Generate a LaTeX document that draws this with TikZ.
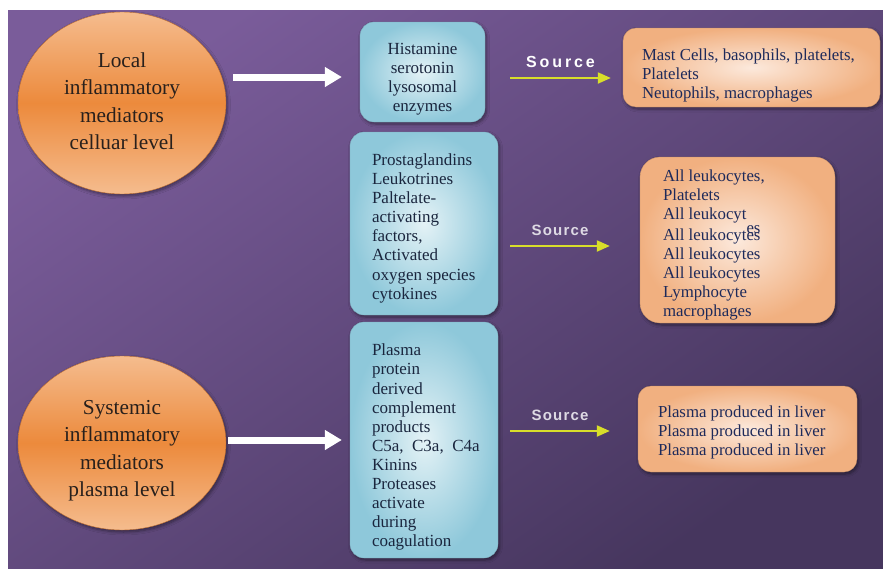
\documentclass[tikz,border=0pt]{standalone}
\usepackage{fontspec}
\setmainfont{Liberation Serif}
\newfontfamily\srcwide[LetterSpace=18]{Liberation Sans}
\newfontfamily\srcnarrow[LetterSpace=8]{Liberation Sans}
\usetikzlibrary{shapes.geometric,arrows.meta,shadows.blur}
\definecolor{bgtop}{RGB}{122,92,154}
\definecolor{bgbot}{RGB}{70,54,94}
\definecolor{orlight}{RGB}{245,188,142}
\definecolor{ordark}{RGB}{236,138,60}
\definecolor{blueout}{RGB}{142,200,218}
\definecolor{bluein}{RGB}{228,242,246}
\definecolor{peachout}{RGB}{241,176,128}
\definecolor{peachin}{RGB}{252,233,220}
\definecolor{inkdark}{RGB}{40,32,28}
\definecolor{inknavy}{RGB}{26,38,62}
\definecolor{inkblue}{RGB}{30,42,90}
\definecolor{yarrowc}{RGB}{216,222,42}
\definecolor{srcgrey}{RGB}{222,218,228}
% text block lowered by #1 inside its node, centred lines
\newcommand{\blockc}[2]{\raisebox{-#1}[\height][\depth]{\begin{tabular}{@{}c@{}}#2\end{tabular}}}
% text block lowered by #1, left-aligned lines in a box of width #2
\newcommand{\blockl}[3]{\raisebox{-#1}[\height][\depth]{\makebox[#2][l]{\begin{tabular}{@{}l@{}}#3\end{tabular}}}}
\tikzset{
  softshadow/.style={blur shadow={shadow blur steps=6, shadow xshift=1.5pt, shadow yshift=-2pt, shadow opacity=45, shadow blur radius=3pt}},
  oval/.style={ellipse, softshadow, top color=orlight, bottom color=orlight, middle color=ordark,
    draw=ordark!80!black, line width=0.4pt, inner sep=0pt, text=inkdark,
    font=\fontsize{21.3}{27.2}\selectfont},
  bluebox/.style={rectangle, rounded corners=14pt, softshadow, inner color=bluein, outer color=blueout,
    draw=blueout!85!black, line width=0.3pt, inner sep=0pt, text=inknavy,
    font=\fontsize{17}{19.1}\selectfont},
  peachbox/.style={rectangle, rounded corners=13pt, softshadow, inner color=peachin, outer color=peachout,
    draw=peachout!80!black, line width=0.3pt, inner sep=0pt, text=inkblue,
    font=\fontsize{16.8}{19}\selectfont},
  warrow/.style={white, line width=7pt, -{Triangle[length=17pt,width=19pt]}},
  yarrow/.style={yarrowc, line width=2pt, -{Triangle[length=13pt,width=11pt]}},
  srcA/.style={inner sep=0pt, text=white, font=\srcwide\bfseries\fontsize{16}{16}\selectfont},
  srcB/.style={inner sep=0pt, text=srcgrey, font=\srcnarrow\bfseries\fontsize{15}{15}\selectfont},
}
\begin{document}
\begin{tikzpicture}[x=1pt,y=-1pt]
\useasboundingbox (0,0) rectangle (883,570);
\fill[white] (0,0) rectangle (883,570);
\shade[top color=bgtop, bottom color=bgbot, shading angle=35] (8,10) rectangle (883,568);

% ellipses
\node[oval, minimum width=208pt, minimum height=182pt] (e1) at (122,103)
  {\blockc{0pt}{Local\\inflammatory\\mediators\\celluar level}};
\node[oval, minimum width=208pt, minimum height=174pt] (e2) at (122,443)
  {\blockc{7pt}{Systemic\\inflammatory\\mediators\\plasma level}};

% blue boxes
\node[bluebox, minimum width=125pt, minimum height=100pt] (b1) at (422.5,72)
  {\blockc{7pt}{Histamine\\serotonin\\lysosomal\\enzymes}};
\node[bluebox, minimum width=148pt, minimum height=183pt] (b2) at (424,223.5)
  {\blockl{5pt}{104pt}{Prostaglandins\\Leukotrines\\Paltelate-\\activating\\factors,\\Activated\\oxygen species\\cytokines}};
\node[bluebox, minimum width=148pt, minimum height=236pt] (b3) at (424,440)
  {\blockl{7.5pt}{104pt}{Plasma\\protein\\derived\\complement\\products\\C5a,\ \ C3a,\ \ C4a\\Kinins\\Proteases\\activate\\during\\coagulation}};

% peach boxes
\node[peachbox, minimum width=257pt, minimum height=79pt] (o1) at (751.5,67.5)
  {\blockl{8pt}{219pt}{Mast Cells, basophils, platelets,\\Platelets\\Neutophils, macrophages}};
\node[peachbox, rounded corners=20pt, minimum width=195pt, minimum height=166pt] (o2) at (737.5,240)
  {\blockl{5pt}{149pt}{All leukocytes,\\Platelets\\All leukocyt\\All leukocyt\rlap{\raisebox{7pt}{es}}es\\All leukocytes\\All leukocytes\\Lymphocyte\\macrophages}};
\node[peachbox, minimum width=219pt, minimum height=86pt] (o3) at (747.5,429)
  {\blockl{4pt}{179pt}{Plasma produced in liver\\Plasma produced in liver\\Plasma produced in liver}};

% white arrows
\draw[warrow] ([xshift=7pt,yshift=26pt]e1.east) -- ([xshift=-18pt,yshift=-5pt]b1.west);
\draw[warrow] ([xshift=2pt,yshift=3pt]e2.east) -- ([xshift=-8pt]b3.west);

% yellow arrows with labels
\draw[yarrow] ([xshift=25pt,yshift=-6pt]b1.east) -- node[srcA, above=9pt] (s1) {Source} ([xshift=-12pt,yshift=-10.5pt]o1.west);
\draw[yarrow] ([xshift=12pt,yshift=-22.5pt]b2.east) -- node[srcB, above=9pt] (s2) {Source} ([xshift=-30pt,yshift=-6pt]o2.west);
\draw[yarrow] ([xshift=12pt,yshift=9pt]b3.east) -- node[srcB, above=9pt] (s3) {Source} ([xshift=-28pt,yshift=-2pt]o3.west);
\end{tikzpicture}
\end{document}
